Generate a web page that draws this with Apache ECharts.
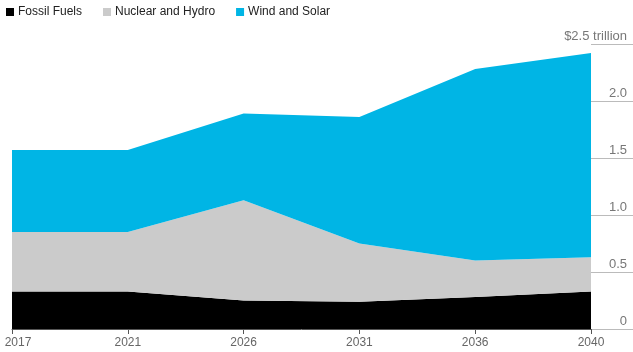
<!DOCTYPE html>
<html>
<head>
<meta charset="utf-8">
<script src="https://cdn.jsdelivr.net/npm/echarts@6/dist/echarts.min.js"></script>
<style>
  html, body { margin: 0; padding: 0; background: #fff; }
  #main { width: 633px; height: 352px; }
</style>
</head>
<body>
<div id="main"></div>
<script>
const years = ['2017', '2021', '2026', '2031', '2036', '2040'];
const fossil = [0.33, 0.33, 0.25, 0.24, 0.28, 0.33];
const nuclear = [0.52, 0.52, 0.88, 0.51, 0.32, 0.30];
const windSolar = [0.72, 0.72, 0.76, 1.11, 1.68, 1.79];

const chart = echarts.init(document.getElementById('main'));

const areaSeries = (name, data, color) => ({
  name: name,
  type: 'line',
  stack: 'total',
  data: data,
  symbol: 'none',
  lineStyle: { width: 0 },
  areaStyle: { color: color, opacity: 1 },
  itemStyle: { color: color }
});

chart.setOption({
  animation: false,
  textStyle: { fontFamily: 'Liberation Sans, Arial, sans-serif' },
  legend: {
    left: 6,
    top: 5,
    padding: 0,
    icon: 'rect',
    itemWidth: 8,
    itemHeight: 8,
    itemGap: 21,
    textStyle: { fontSize: 12, color: '#222', padding: [0, 0, 0, -1], lineHeight: 14 },
    data: ['Fossil Fuels', 'Nuclear and Hydro', 'Wind and Solar']
  },
  grid: { left: 12, right: 42, top: 44, bottom: 23, outerBoundsMode: 'none', containLabel: false },
  xAxis: {
    type: 'category',
    data: years,
    boundaryGap: false,
    axisLine: { lineStyle: { color: '#555' } },
    axisTick: { show: true, length: 5, lineStyle: { color: '#555' } },
    axisLabel: {
      color: '#666',
      fontSize: 12,
      margin: 8,
      // first label is pushed right so it stays inside the frame
      formatter: (v, i) => i === 0 ? '{first|' + v + '}' : v,
      rich: { first: { color: '#666', fontSize: 12, padding: [0, 0, 0, 12] } }
    }
  },
  yAxis: {
    type: 'value',
    position: 'right',
    min: 0,
    max: 2.5,
    interval: 0.5,
    splitLine: { show: false },
    axisLine: { show: false },
    axisTick: { show: true, inside: false, length: 42, lineStyle: { color: '#bbb' } },
    axisLabel: {
      color: '#777',
      fontSize: 13,
      align: 'right',
      verticalAlign: 'bottom',
      margin: 36,
      padding: [0, 0, 1, 0],
      formatter: v => v === 2.5 ? '$2.5 trillion' : (v === 0 ? '0' : v.toFixed(1))
    }
  },
  series: [
    areaSeries('Fossil Fuels', fossil, '#000000'),
    areaSeries('Nuclear and Hydro', nuclear, '#cbcbcb'),
    areaSeries('Wind and Solar', windSolar, '#00b5e5')
  ]
});
</script>
</body>
</html>
